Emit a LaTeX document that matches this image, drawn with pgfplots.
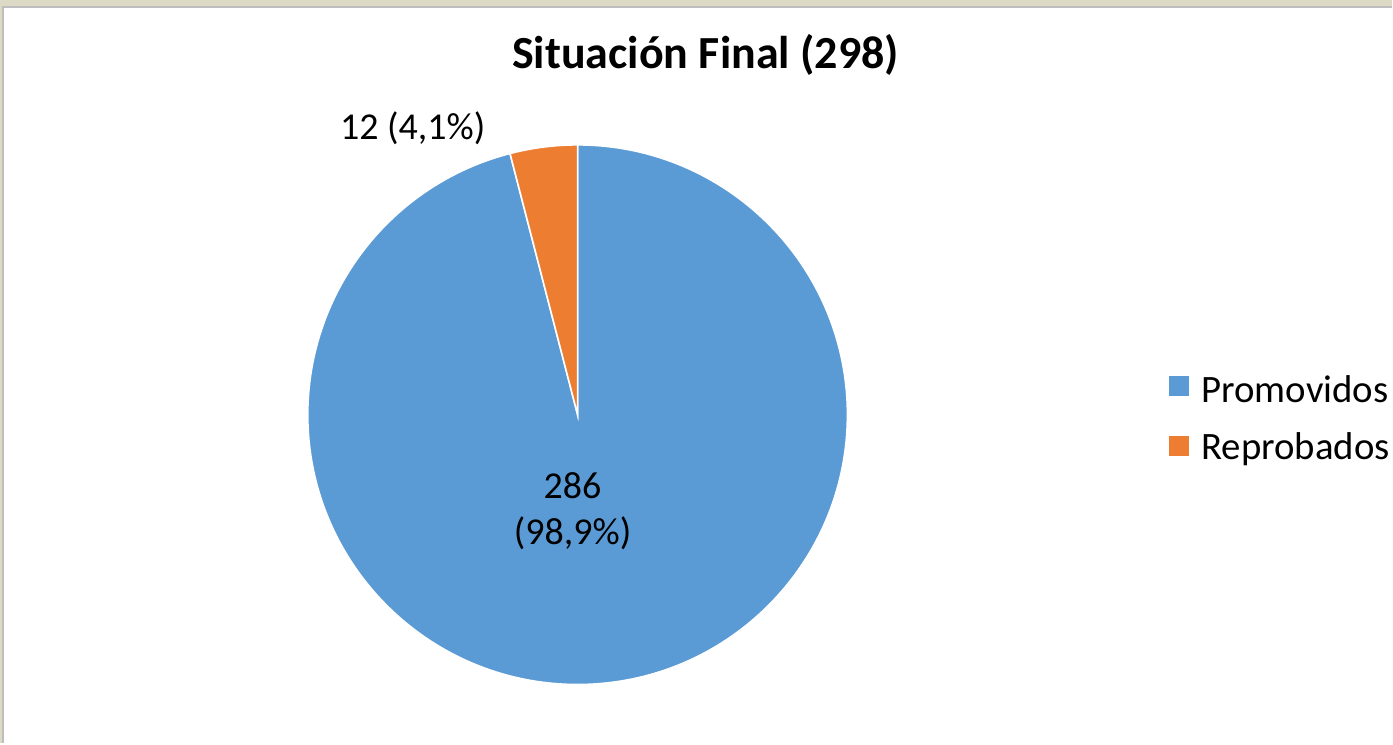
\documentclass[border=0pt]{standalone}
\usepackage{pgfplots}
\usepackage{pgfplotstable}
\usepackage{fontspec}
\setmainfont{Carlito}
\pgfplotsset{compat=1.18}
\definecolor{promo}{HTML}{5B9BD5}
\definecolor{repro}{HTML}{ED7D31}
\definecolor{bandc}{HTML}{DCD9C4}
\definecolor{linec}{HTML}{BEBEBE}
\pgfplotstableread{
name value
Promovidos 286
Reprobados 12
}\piedata
\pgfplotstablegetelem{0}{value}\of\piedata \let\va\pgfplotsretval
\pgfplotstablegetelem{1}{value}\of\piedata \let\vb\pgfplotsretval
\pgfmathsetmacro{\tot}{\va+\vb}
\pgfmathsetmacro{\aA}{90-\va/\tot*360}
\pgfmathsetmacro{\aB}{\aA-\vb/\tot*360}
\begin{document}
\begin{tikzpicture}
\begin{axis}[hide axis, scale only axis, width=696.5pt, height=372pt,
  xmin=0, xmax=1393, ymin=0, ymax=744, clip=false]
\fill[white] (axis cs:0,0) rectangle (axis cs:1393,744);
\fill[bandc] (axis cs:0,737) rectangle (axis cs:1393,744);
\fill[bandc] (axis cs:0,0) rectangle (axis cs:3,744);
\draw[linec, line width=1pt] (axis cs:3.5,0) -- (axis cs:3.5,736.5) -- (axis cs:1393,736.5);
% pie
\filldraw[fill=promo, draw=white, line width=0.8pt] (axis cs:578,329) -- ++(90:135pt) arc[start angle=90, end angle=\aA, radius=135pt] -- cycle;
\filldraw[fill=repro, draw=white, line width=0.8pt] (axis cs:578,329) -- ++(\aA:135pt) arc[start angle=\aA, end angle=\aB, radius=135pt] -- cycle;
% labels
\node[font=\fontsize{19pt}{23pt}\selectfont] at (axis cs:413,616) {12 (4,1\%)};
\node[font=\fontsize{19pt}{23pt}\selectfont, align=center] at (axis cs:573,232) {286\\(98,9\%)};
% title
\node[font=\fontsize{23pt}{28pt}\selectfont\bfseries] at (axis cs:706,689) {Situación Final (298)};
% legend
\fill[promo] (axis cs:1170,348) rectangle (axis cs:1190,368);
\node[anchor=west, font=\fontsize{19.4pt}{23pt}\selectfont, inner sep=0pt] at (axis cs:1202,355) {Promovidos};
\fill[repro] (axis cs:1170,288) rectangle (axis cs:1190,308);
\node[anchor=west, font=\fontsize{19.4pt}{23pt}\selectfont, inner sep=0pt] at (axis cs:1202,295) {Reprobados};
\end{axis}
\end{tikzpicture}
\end{document}
